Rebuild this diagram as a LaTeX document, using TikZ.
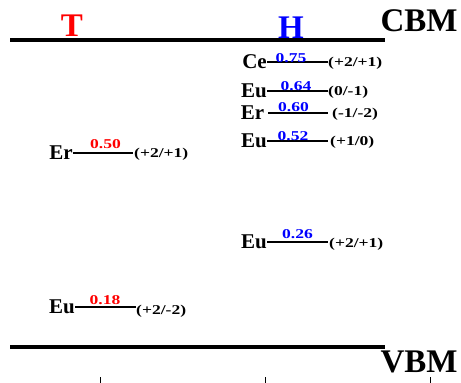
\documentclass[tikz,border=0pt]{standalone}
\usepackage{fontspec}
\usepackage{graphicx}
\setmainfont{Liberation Serif}
\begin{document}
\begin{tikzpicture}[x=1pt,y=-1pt,
  band/.style={line width=3.8pt},
  lvl/.style={line width=2pt},
  elem/.style={font=\fontsize{21}{22}\selectfont\bfseries, inner sep=0pt, anchor=east},
  num/.style={font=\fontsize{13.5}{14}\selectfont\bfseries, inner sep=0pt, anchor=base},
  chg/.style={font=\fontsize{13.5}{14}\selectfont\bfseries, inner sep=0pt, anchor=west},
  big/.style={font=\fontsize{33}{34}\selectfont\bfseries, inner sep=0pt, anchor=base},
  tick/.style={line width=0.5pt}]
\useasboundingbox (0,0) rectangle (461,383);
% bands
\coordinate (cbmL) at (10,40); \coordinate (cbmR) at (385,40);
\coordinate (vbmL) at (10,347); \coordinate (vbmR) at (385,347);
\draw[band] (cbmL) -- (cbmR);
\draw[band] (vbmL) -- (vbmR);
\node[big] (cbm) at (419,31) {CBM};
\node[big] (vbm) at (419,372) {VBM};
\node[big,text=red] (T) at (72,36) {T};
\node[big,text=blue] (H) at (291,38) {H};
% ticks
\coordinate (t1a) at (100,377); \coordinate (t1b) at (100,383);
\coordinate (t2a) at (265,377); \coordinate (t2b) at (265,383);
\coordinate (t3a) at (430,377); \coordinate (t3b) at (430,383);
\draw[tick] (t1a) -- (t1b); \draw[tick] (t2a) -- (t2b); \draw[tick] (t3a) -- (t3b);
% level macro: name, x1, x2, y, elem, num, numx, numbase, color
\newcommand{\lev}[9]{%
  \coordinate (#1a) at (#2,#4); \coordinate (#1b) at (#3,#4);
  \draw[lvl] (#1a) -- (#1b);
  \node[elem] (#1e) at (#1a) {#5};
  \node[num,text=#9] (#1n) at (#7,#8) {\scalebox{1.3}[1]{#6}};
}
\newcommand{\chg}[4]{\node[chg] (#1c) at (#2,#3) {\scalebox{1.3}[1]{#4}};}
% H side
\lev{ce}{267}{328}{62}{Ce}{0.75}{291}{62}{blue}
\chg{ce}{328}{63}{(+2/+1)}
\lev{euA}{267}{328}{91}{Eu}{0.64}{296}{90}{blue}
\chg{euA}{328}{92}{(0/-1)}
\lev{er}{268}{328}{113}{Er\,}{0.60}{293.5}{111}{blue}
\chg{er}{332}{114}{(-1/-2)}
\lev{euB}{267}{328}{141}{Eu}{0.52}{293}{140.5}{blue}
\chg{euB}{330}{142}{(+1/0)}
\lev{euC}{267}{328}{242}{Eu}{0.26}{297.5}{238}{blue}
\chg{euC}{329}{244}{(+2/+1)}
% T side
\lev{erT}{73}{133}{153}{Er}{0.50}{105.5}{148}{red}
\chg{erT}{134}{154}{(+2/+1)}
\lev{euT}{75}{136}{307}{Eu}{0.18}{105}{304}{red}
\chg{euT}{136}{311}{(+2/-2)}
\end{tikzpicture}
\end{document}
